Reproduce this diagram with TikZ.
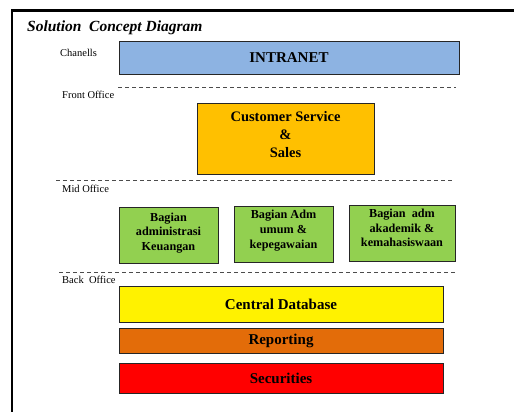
\documentclass[tikz,border=0pt]{standalone}
\usepackage{fontspec}
\setmainfont{Liberation Serif}
\begin{document}
\begin{tikzpicture}[x=1pt,y=-1pt,
  box/.style={draw=black!85, line width=0.9pt, align=center, inner sep=1pt,
    font=\bfseries\fontsize{15}{17}\selectfont},
  gbox/.style={box, fill=green92},
  gtxt/.style={align=center, inner sep=0pt, font=\bfseries\fontsize{12.2}{14.7}\selectfont},
  lbl/.style={anchor=west, inner sep=0pt, font=\fontsize{10.5}{12}\selectfont},
  sep/.style={draw=black!70, dash pattern=on 4pt off 3pt, line width=0.8pt}]
\definecolor{blue8d}{HTML}{8DB3E2}
\definecolor{orangeC0}{HTML}{FFC000}
\definecolor{green92}{HTML}{92D050}
\definecolor{orangeE3}{HTML}{E36C09}
\useasboundingbox (0,0) rectangle (514,412);
\clip (0,0) rectangle (514,412);
\fill[white] (0,0) rectangle (514,412);
% frame
\draw[line width=2.6pt] (12,430) -- (12,10.3) -- (530,10.3);
% title
\node[anchor=west, inner sep=0pt, font=\bfseries\itshape\fontsize{15.5}{18}\selectfont] (title) at (27,28) {Solution\ \ Concept Diagram};
% labels
\node[lbl] (lch) at (60,53) {Chanells};
\node[lbl] (lfo) at (62,95) {Front Office};
\node[lbl] (lmo) at (62,189) {Mid Office};
\node[lbl] (lbo) at (62,280) {Back\ \ Office};
% separators
\coordinate (s1a) at (118,87); \coordinate (s1b) at (456,87);
\coordinate (s2a) at (56,180); \coordinate (s2b) at (453,180);
\coordinate (s3a) at (59,272); \coordinate (s3b) at (456,272);
\draw[sep] (s1a) -- (s1b);
\draw[sep] (s2a) -- (s2b);
\draw[sep] (s3a) -- (s3b);
% boxes
\node[box, fill=blue8d, minimum width=340pt, minimum height=33pt] (intranet) at (289,57.5) {INTRANET};
\node[box, fill=orangeC0, minimum width=177pt, minimum height=71pt] (cs) at (285.5,138.5) {};
\node[align=center, inner sep=0pt, font=\bfseries\fontsize{14.5}{18}\selectfont] (cst) at (285.5,135) {Customer Service\\\&\\Sales};
\node[gbox, minimum width=99pt, minimum height=56pt] (g1) at (168.5,235) {};
\node[gtxt] (g1t) at (168.5,233) {Bagian\\administrasi\\Keuangan};
\node[gbox, minimum width=99pt, minimum height=56pt] (g2) at (283.5,234) {};
\node[gtxt] (g2t) at (283.5,230.5) {Bagian Adm\\umum \&\\kepegawaian};
\node[gbox, minimum width=106pt, minimum height=56pt] (g3) at (402,233) {};
\node[gtxt] (g3t) at (402,228) {Bagian\ \ adm\\akademik \&\\kemahasiswaan};
\node[box, fill=yellow, minimum width=324pt, minimum height=36pt] (cdb) at (281,304) {Central Database};
\node[box, fill=orangeE3, minimum width=324pt, minimum height=25pt] (rep) at (281,340.5) {Reporting};
\node[box, fill=red, minimum width=324pt, minimum height=30pt] (sec) at (281,378) {Securities};
\end{tikzpicture}
\end{document}
